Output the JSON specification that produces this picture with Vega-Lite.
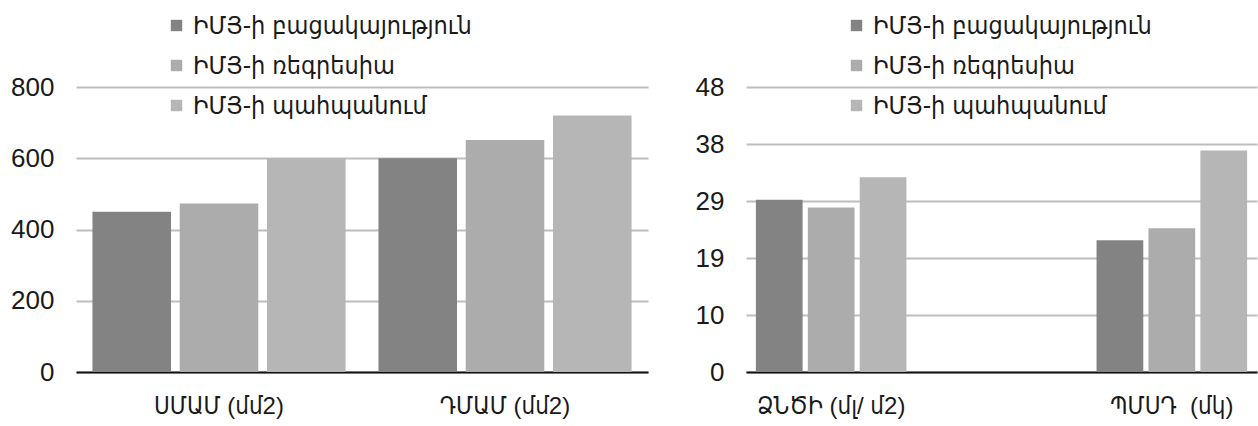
{
  "$schema": "https://vega.github.io/schema/vega-lite/v6.json",
  "background": "#ffffff",
  "padding": {"left": 10, "top": 13, "right": 2, "bottom": 2},
  "datasets": {
    "area": [
      {"cat": "ՍՄԱՄ (մմ2)", "series": "ԻՄՅ-ի բացակայություն", "value": 450},
      {"cat": "ՍՄԱՄ (մմ2)", "series": "ԻՄՅ-ի ռեգրեսիա", "value": 473},
      {"cat": "ՍՄԱՄ (մմ2)", "series": "ԻՄՅ-ի պահպանում", "value": 600},
      {"cat": "ԴՄԱՄ (մմ2)", "series": "ԻՄՅ-ի բացակայություն", "value": 600},
      {"cat": "ԴՄԱՄ (մմ2)", "series": "ԻՄՅ-ի ռեգրեսիա", "value": 651},
      {"cat": "ԴՄԱՄ (մմ2)", "series": "ԻՄՅ-ի պահպանում", "value": 720}
    ],
    "other": [
      {"cat": "ՁՆԾԻ (մլ/ մ2)", "series": "ԻՄՅ-ի բացակայություն", "value": 29.0},
      {"cat": "ՁՆԾԻ (մլ/ մ2)", "series": "ԻՄՅ-ի ռեգրեսիա", "value": 27.7},
      {"cat": "ՁՆԾԻ (մլ/ մ2)", "series": "ԻՄՅ-ի պահպանում", "value": 32.8},
      {"cat": "ՊՄՍԴ\u00a0 (մկ)", "series": "ԻՄՅ-ի բացակայություն", "value": 22.2},
      {"cat": "ՊՄՍԴ\u00a0 (մկ)", "series": "ԻՄՅ-ի ռեգրեսիա", "value": 24.2},
      {"cat": "ՊՄՍԴ\u00a0 (մկ)", "series": "ԻՄՅ-ի պահպանում", "value": 37.3}
    ]
  },
  "config": {
    "font": "Liberation Sans, DejaVu Sans Condensed",
    "view": {"stroke": null},
    "axis": {
      "labelFont": "Liberation Sans, DejaVu Sans Condensed",
      "labelColor": "#1a1a1a",
      "title": null
    },
    "axisX": {
      "domain": true,
      "domainColor": "#111111",
      "domainWidth": 2,
      "ticks": false,
      "grid": false,
      "labelAngle": 0,
      "labelFontSize": 24,
      "labelPadding": 22
    },
    "axisY": {
      "domain": false,
      "ticks": false,
      "grid": true,
      "gridColor": "#bdbdbd",
      "gridWidth": 2,
      "labelFontSize": 26,
      "labelPadding": 22
    },
    "legend": {
      "orient": "none",
      "title": null,
      "symbolType": "square",
      "symbolSize": 130,
      "symbolStrokeWidth": 0,
      "labelFont": "Liberation Sans, DejaVu Sans Condensed",
      "labelFontSize": 25,
      "labelColor": "#1a1a1a",
      "labelOffset": 4,
      "rowPadding": 14,
      "padding": 0,
      "labelLimit": 400
    }
  },
  "hconcat": [
    {
      "width": 572,
      "height": 285,
      "data": {"name": "area"},
      "mark": {"type": "bar"},
      "encoding": {
        "x": {
          "field": "cat", "type": "nominal", "sort": null,
          "scale": {"paddingInner": 0.115, "paddingOuter": 0.0575}
        },
        "xOffset": {
          "field": "series", "type": "nominal", "sort": null,
          "scale": {"paddingInner": 0.1, "paddingOuter": 0}
        },
        "y": {
          "field": "value", "type": "quantitative",
          "scale": {"domain": [0, 800], "nice": false},
          "axis": {"values": [0, 200, 400, 600, 800]}
        },
        "color": {
          "field": "series", "type": "nominal", "sort": null,
          "scale": {
            "domain": ["ԻՄՅ-ի բացակայություն", "ԻՄՅ-ի ռեգրեսիա", "ԻՄՅ-ի պահպանում"],
            "range": ["#838383", "#acacac", "#b6b6b6"]
          },
          "legend": {"legendX": 88, "legendY": -74}
        }
      }
    },
    {
      "width": 511,
      "height": 285,
      "data": {"name": "other"},
      "mark": {"type": "bar"},
      "encoding": {
        "x": {
          "field": "cat", "type": "nominal", "sort": null,
          "scale": {"paddingInner": 0.558, "paddingOuter": 0.029}
        },
        "xOffset": {
          "field": "series", "type": "nominal", "sort": null,
          "scale": {"paddingInner": 0.1, "paddingOuter": 0}
        },
        "y": {
          "field": "value", "type": "quantitative",
          "scale": {"domain": [0, 48], "nice": false},
          "axis": {"values": [0, 9.6, 19.2, 28.8, 38.4, 48], "format": ".0f"}
        },
        "color": {
          "field": "series", "type": "nominal", "sort": null,
          "scale": {
            "domain": ["ԻՄՅ-ի բացակայություն", "ԻՄՅ-ի ռեգրեսիա", "ԻՄՅ-ի պահպանում"],
            "range": ["#838383", "#acacac", "#b6b6b6"]
          },
          "legend": {"legendX": 98, "legendY": -74}
        }
      }
    }
  ],
  "spacing": 98,
  "bounds": "flush",
  "resolve": {
    "scale": {"x": "independent", "y": "independent", "xOffset": "independent", "color": "independent"},
    "legend": {"color": "independent"}
  }
}
